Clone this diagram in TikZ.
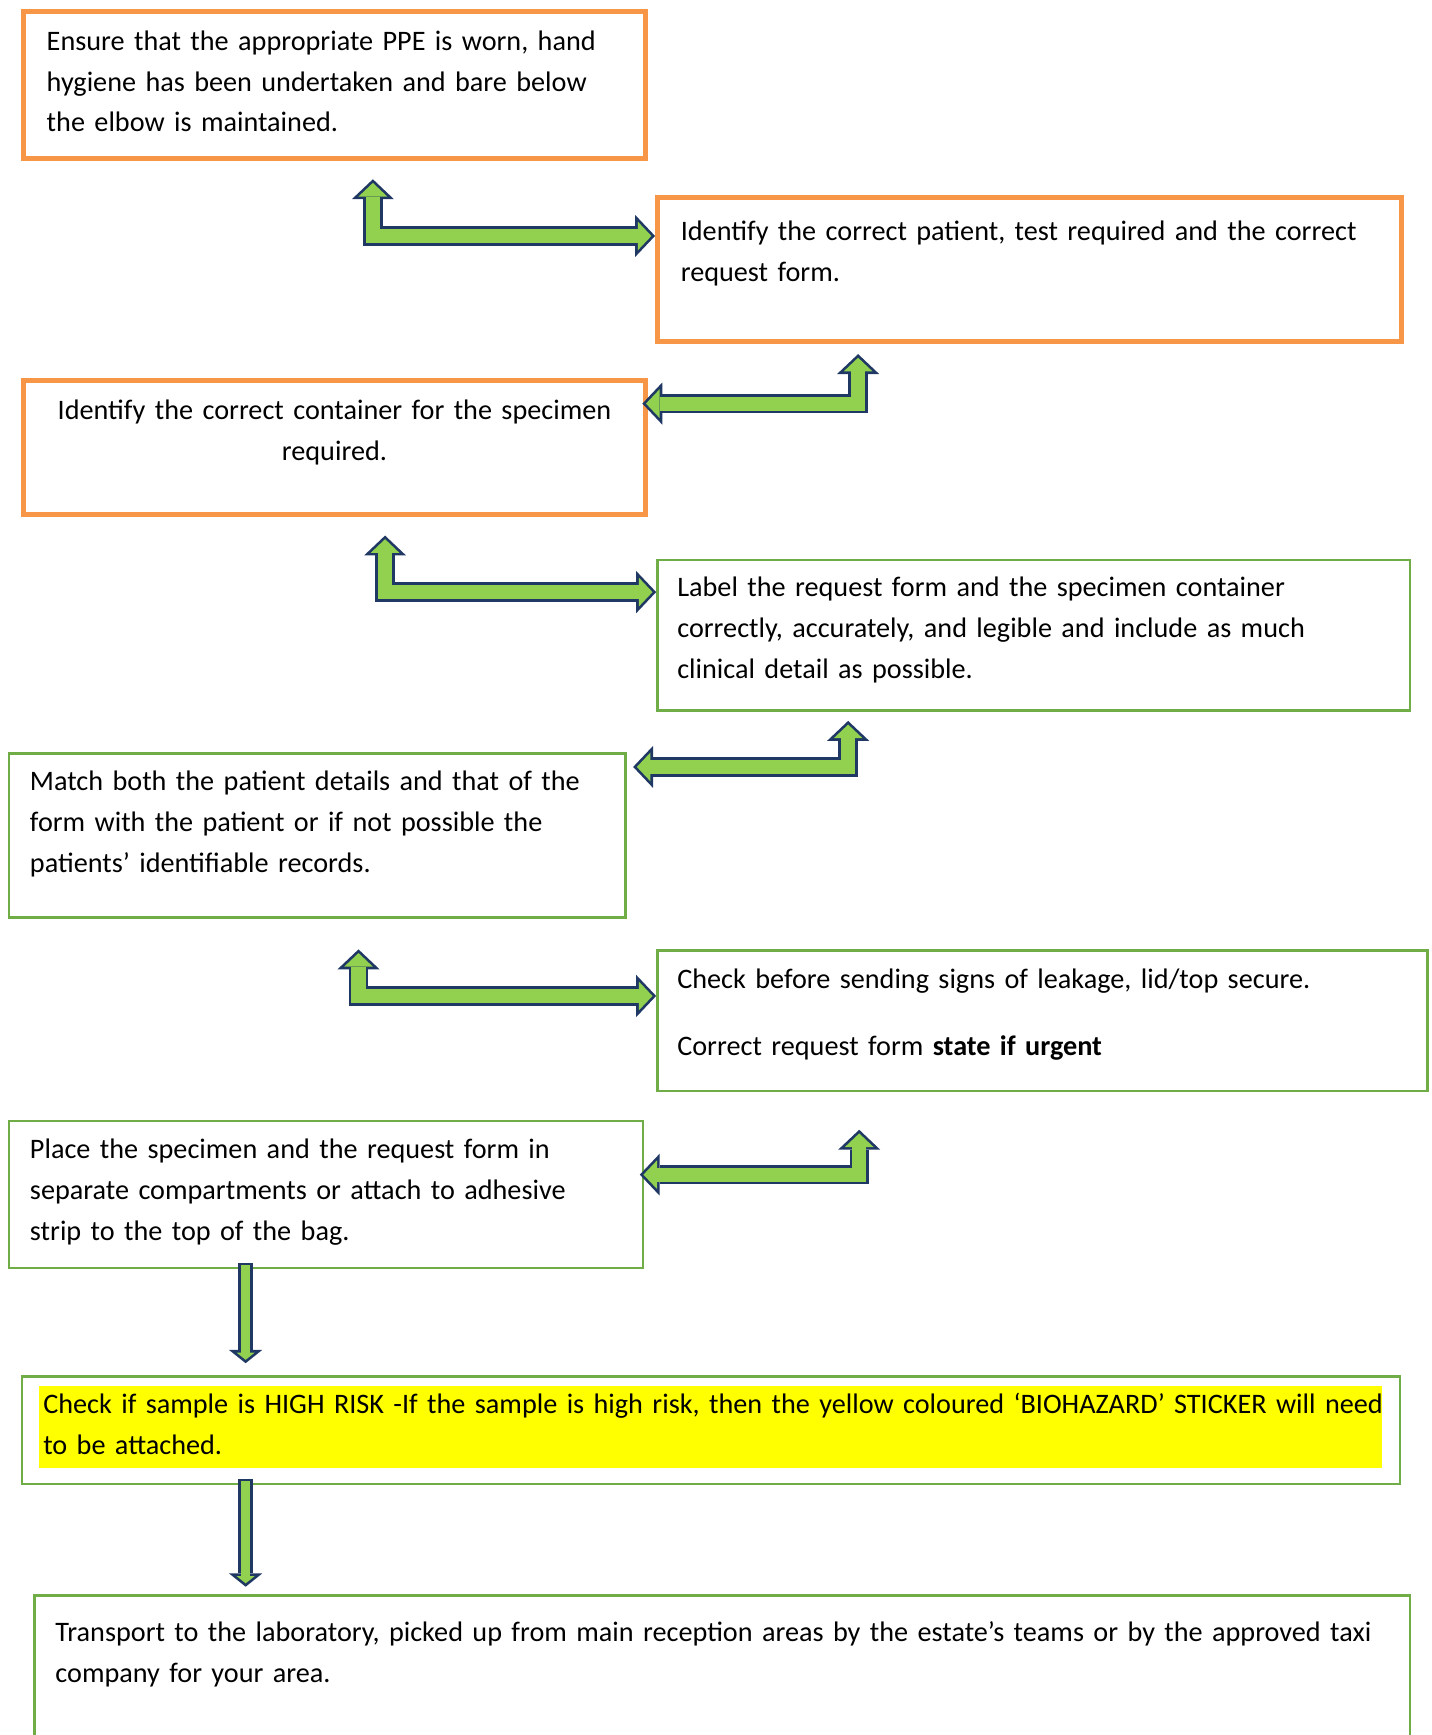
\documentclass[tikz,border=0pt]{standalone}
\usepackage{fontspec}
\setmainfont{Carlito}
\usetikzlibrary{arrows.meta}

\definecolor{boxorange}{HTML}{F79646}
\definecolor{boxgreen}{HTML}{70AD47}
\definecolor{flowgreen}{HTML}{92D050}
\definecolor{flownavy}{HTML}{1F3864}
\definecolor{markyellow}{HTML}{FFFF00}

\begin{document}
\begin{tikzpicture}[x=0.5pt,y=-0.5pt,
                    stepbox/.style={rectangle,
                                    anchor=north west,
                                    inner ysep=0pt,
                                    align=left,
                                    font=\fontsize{12.75}{18.5}\selectfont
                                   },
                    orangebox/.style={stepbox, draw=boxorange, line width=2.25pt},
                    greenbox/.style={stepbox, draw=boxgreen, line width=1.1pt},
                    flowout/.style={draw=flownavy, line width=8.75pt, line join=miter,
                                    arrows={Triangle[width=19pt,length=9pt,line width=0pt]-Triangle[width=19pt,length=9pt,line width=0pt]}
                                   },
                    flowin/.style={draw=flowgreen, line width=6.35pt, line join=miter,
                                   shorten <=1.65pt, shorten >=1.65pt,
                                   arrows={Triangle[width=12.97pt,length=6.15pt,line width=0pt]-Triangle[width=12.97pt,length=6.15pt,line width=0pt]}
                                  },
                    downout/.style={draw=flownavy, line width=6.75pt,
                                    arrows={-Triangle[width=15pt,length=6pt,line width=0pt]}
                                   },
                    downin/.style={draw=flowgreen, line width=4.35pt,
                                   shorten <=1.2pt, shorten >=1.54pt,
                                   arrows={-Triangle[width=8.2pt,length=3.27pt,line width=0pt]}
                                  }
                   ]
  \useasboundingbox (0,0) rectangle (1294,1568);
  \clip (0,0) rectangle (1294,1568);

  % highlighted text area
  \fill[markyellow] (35,1253) rectangle (1249,1327);

  \node[orangebox, inner xsep=10.5pt, text width=260pt, text height=17.5pt, text depth=49pt] (b1) at (19,8)
    {Ensure that the appropriate PPE is worn, hand\\ hygiene has been undertaken and bare below\\ the elbow is maintained.};
  \node[orangebox, inner xsep=10.5pt, text width=315pt, text height=19.5pt, text depth=45.5pt] (b2) at (592,176)
    {Identify the correct patient, test required and the correct\\ request form.};
  \node[orangebox, align=center, inner xsep=10.5pt, text width=260pt, text height=17.5pt, text depth=43pt] (b3) at (19,342)
    {Identify the correct container for the specimen\\ required.};
  \node[greenbox, inner xsep=9pt, text width=322pt, text height=16.5pt, text depth=51.5pt] (b4) at (593,505)
    {Label the request form and the specimen container\\ correctly, accurately, and legible and include as much\\ clinical detail as possible.};
  \node[greenbox, inner xsep=9.5pt, text width=259.5pt, text height=16.5pt, text depth=57.5pt] (b5) at (7,680)
    {Match both the patient details and that of the\\ form with the patient or if not possible the\\ patients’ identifiable records.};
  \node[greenbox, inner xsep=9pt, text width=330pt, text height=17pt, text depth=46.5pt] (b6) at (593,858)
    {Check before sending signs of leakage, lid/top secure.\\[12pt] Correct request form \textbf{state if urgent}};
  \node[greenbox, inner xsep=9.5pt, text width=267.5pt, text height=17pt, text depth=49.5pt] (b7) at (7,1012)
    {Place the specimen and the request form in\\ separate compartments or attach to adhesive\\ strip to the top of the bag.};
  \node[greenbox, inner xsep=9.5pt, text width=603.5pt, text height=16.5pt, text depth=32pt] (b8) at (19,1243)
    {\mbox{Check if sample is HIGH RISK -If the sample is high risk, then the yellow coloured ‘BIOHAZARD’ STICKER will need}\\ to be attached.};
  \node[greenbox, inner xsep=9.5pt, text width=602.5pt, text height=20.5pt, text depth=79pt] (b9) at (30,1441)
    {\mbox{Transport to the laboratory, picked up from main reception areas by the estate’s teams or by the approved taxi}\\ company for your area.};

  % free arrow ends
  \coordinate (u1) at (337,162);
  \coordinate (u2) at (775.5,320);
  \coordinate (u3) at (348,484);
  \coordinate (u4) at (766.5,651.5);
  \coordinate (u5) at (324,858);
  \coordinate (u6) at (776.5,1021);
  \coordinate (d7) at (222,1232);
  \coordinate (d8) at (222,1434);

  \foreach \pass in {flowout,flowin}{
    \draw[\pass] (u1) |- ([yshift=15pt]b2.west);
    \draw[\pass] (u2) |- ([xshift=-2.5pt,yshift=20pt]b3.east);
    \draw[\pass] (u3) |- ([yshift=19.5pt]b4.west);
    \draw[\pass] (u4) |- ([xshift=3pt,yshift=31pt]b5.east);
    \draw[\pass] (u5) |- ([yshift=11.25pt]b6.west);
    \draw[\pass] (u6) |- ([xshift=-2pt,yshift=9pt]b7.east);
  }
  \foreach \pass in {downout,downin}{
    \draw[\pass] ([yshift=3pt]b7.south -| d7) -- (d7);
    \draw[\pass] ([yshift=3pt]b8.south -| d8) -- (d8);
  }

\end{tikzpicture}
\end{document}
